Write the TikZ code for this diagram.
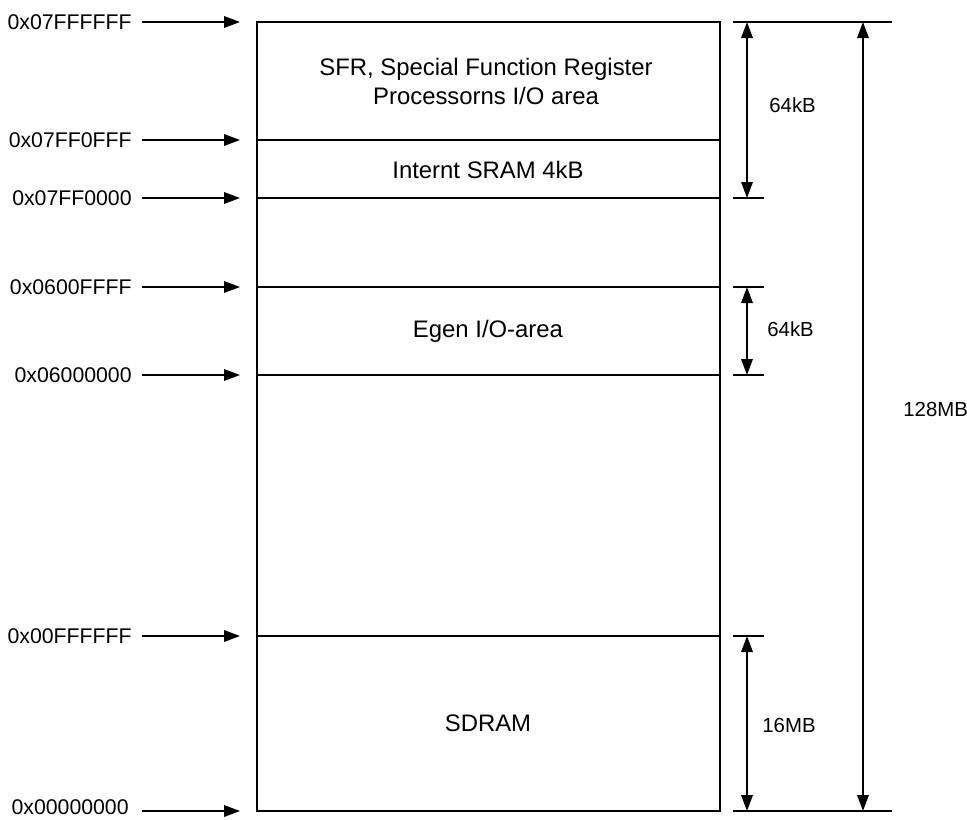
\documentclass[tikz,border=0pt]{standalone}
\usepackage{fontspec}
\setmainfont{Liberation Sans}
\usetikzlibrary{arrows.meta,positioning,calc}

\begin{document}
\begin{tikzpicture}[x=0.02cm,y=-0.02cm]
\tikzset{
  adr/.style={anchor=east, font=\fontsize{12.1}{14}\selectfont, inner sep=0pt},
  area/.style={align=center, font=\fontsize{13.6}{16.5}\selectfont, inner sep=0pt},
  sz/.style={anchor=west, font=\fontsize{11.6}{14}\selectfont, inner sep=0pt},
  edge/.style={line width=1pt},
  l/.style={-{Triangle[length=3.2mm,width=2.3mm]}, line width=1pt},
  dim/.style={{Triangle[length=3.2mm,width=2.3mm]}-{Triangle[length=3.2mm,width=2.3mm]}, line width=1pt}
}
\useasboundingbox (0,0) rectangle (967,819);

% Memory map
\coordinate (top) at (257,22);
\coordinate (bot) at (720,811);
\coordinate (s1) at (257,140);
\coordinate (s2) at (257,198);
\coordinate (s3) at (257,287);
\coordinate (s4) at (257,375);
\coordinate (s5) at (257,636);
\draw[edge] (top) rectangle (bot);
\draw[edge] (s1) -- (s1 -| bot);
\draw[edge] (s2) -- (s2 -| bot);
\draw[edge] (s3) -- (s3 -| bot);
\draw[edge] (s4) -- (s4 -| bot);
\draw[edge] (s5) -- (s5 -| bot);

\node[area] (sfr) at (486,81) {SFR, Special Function Register\\Processorns I/O area};
\node[area] (sram) at (488,170) {Internt SRAM 4kB};
\node[area] (egen) at (488,331) {Egen I/O-area};
\node[area] (sdram) at (488,723) {SDRAM};

% Addresses (left)
\node[adr] (a1) at (132,22) {0x07FFFFFF};
\node[adr] (a2) at (132,140) {0x07FF0FFF};
\node[adr] (a3) at (132,198) {0x07FF0000};
\node[adr] (a4) at (132,287) {0x0600FFFF};
\node[adr] (a5) at (132,375) {0x06000000};
\node[adr] (a6) at (132,636) {0x00FFFFFF};
\node[adr] (a7) at (129,807) {0x00000000};

\draw[l] ([xshift=0.2cm]a1.east) -- ([xshift=-0.34cm]a1 -| top);
\draw[l] ([xshift=0.2cm]a2.east) -- ([xshift=-0.34cm]a2 -| top);
\draw[l] ([xshift=0.2cm]a3.east) -- ([xshift=-0.34cm]a3 -| top);
\draw[l] ([xshift=0.2cm]a4.east) -- ([xshift=-0.34cm]a4 -| top);
\draw[l] ([xshift=0.2cm]a5.east) -- ([xshift=-0.34cm]a5 -| top);
\draw[l] ([xshift=0.2cm]a6.east) -- ([xshift=-0.34cm]a6 -| top);
\draw[l] ([xshift=0.26cm]a7.east |- bot) -- ([xshift=-0.34cm]bot -| top);

% Sizes (right)
\coordinate (k1) at (733,22);
\coordinate (k2) at (733,198);
\coordinate (k3) at (733,287);
\coordinate (k4) at (733,375);
\coordinate (k5) at (733,636);
\coordinate (k6) at (733,811);
\draw[edge] (k1) -- ++(159,0);
\draw[edge] (k2) -- ++(31,0);
\draw[edge] (k3) -- ++(31,0);
\draw[edge] (k4) -- ++(31,0);
\draw[edge] (k5) -- ++(31,0);
\draw[edge] (k6) -- ++(159,0);

\draw[dim] ([xshift=0.28cm]k1) -- ([xshift=0.28cm]k2);
\draw[dim] ([xshift=0.28cm]k3) -- ([xshift=0.28cm]k4);
\draw[dim] ([xshift=0.28cm]k5) -- ([xshift=0.28cm]k6);
\draw[dim] ([xshift=2.6cm]k1) -- ([xshift=2.6cm]k6);

\node[sz] (z1) at (769,105) {64kB};
\node[sz] (z2) at (767,329) {64kB};
\node[sz] (z3) at (762,725) {16MB};
\node[sz] (z4) at (903,409) {128MB};
\end{tikzpicture}
\end{document}
